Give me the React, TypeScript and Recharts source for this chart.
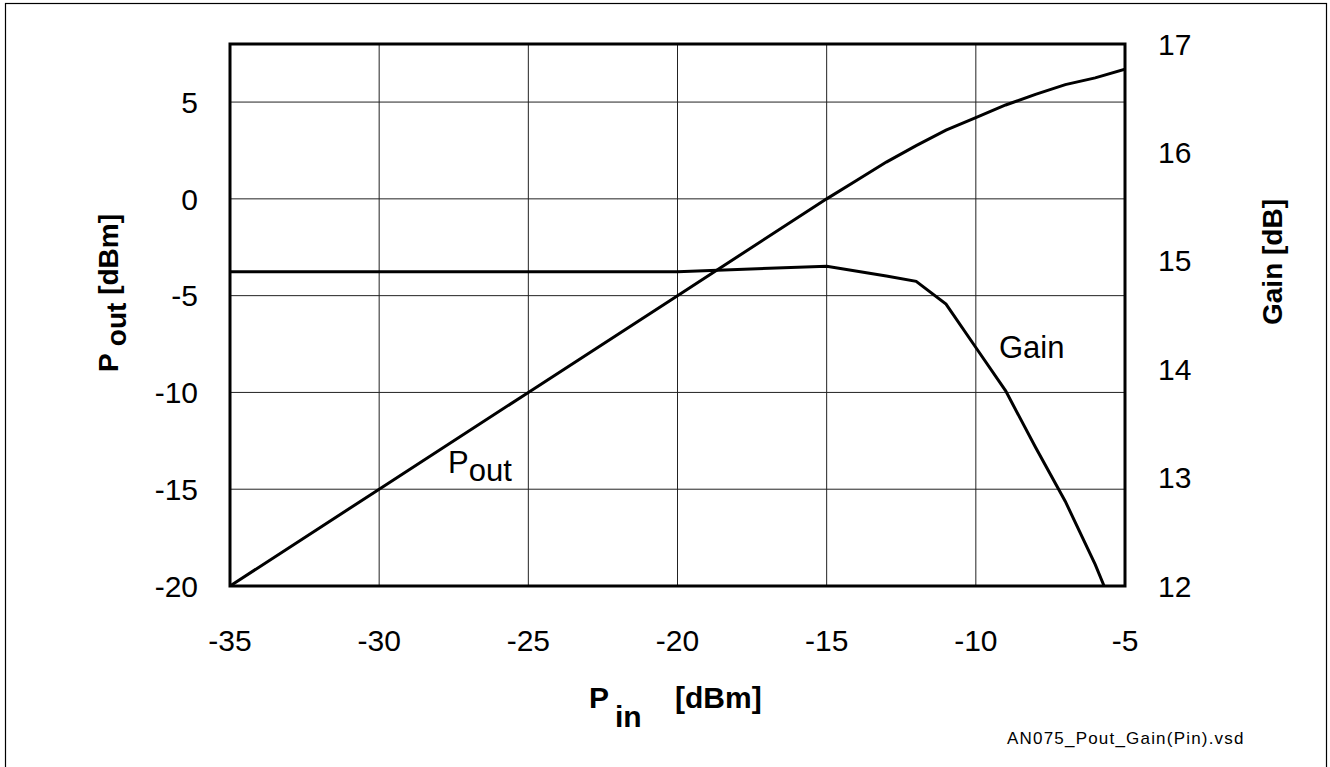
import React from "react";
import {
  LineChart,
  Line,
  XAxis,
  YAxis,
  CartesianGrid,
  ReferenceArea,
} from "recharts";

// Output power vs. input power (dBm)
const poutPin = [-35, -30, -25, -20, -15, -14, -13, -12, -11, -10, -9, -8, -7, -6, -5];
const poutValues = [-20, -15, -10, -5, 0, 0.95, 1.9, 2.75, 3.55, 4.2, 4.85, 5.4, 5.9, 6.25, 6.7];

// Gain vs. input power (dB)
const gainPin = [-35, -30, -25, -20, -15, -13, -12, -11, -10, -9, -8, -7, -6, -5.7];
const gainValues = [14.9, 14.9, 14.9, 14.9, 14.95, 14.86, 14.81, 14.6, 14.2, 13.8, 13.28, 12.78, 12.2, 12.0];

const pinTicks = [-35, -30, -25, -20, -15, -10, -5];
const poutTicks = [-20, -15, -10, -5, 0, 5];
const gainTicks = [12, 13, 14, 15, 16, 17];

const FONT = '"Liberation Sans", Arial, sans-serif';

type Row = { pin: number; pout?: number | null; gain?: number | null };

const buildRows = (): Row[] => {
  const map = new Map<number, Row>();
  poutPin.forEach((p, i) => map.set(p, { pin: p, pout: poutValues[i], gain: null }));
  gainPin.forEach((p, i) => {
    const row = map.get(p) ?? { pin: p, pout: null, gain: null };
    row.gain = gainValues[i];
    map.set(p, row);
  });
  return Array.from(map.values()).sort((a, b) => a.pin - b.pin);
};

const data = buildRows();

const tickStyle = { fontSize: 30, fill: "#000", fontFamily: FONT };

export default function App() {
  return (
    <div
      style={{
        position: "absolute",
        left: 0,
        top: 0,
        width: 1330,
        height: 767,
        overflow: "hidden",
        background: "#fff",
        fontFamily: FONT,
      }}
    >
      <LineChart
        width={1330}
        height={767}
        data={data}
        margin={{ top: 44, right: 125, bottom: 121, left: 150 }}
      >
        <CartesianGrid yAxisId="left" stroke="#222" strokeWidth={1} />
        <XAxis
          dataKey="pin"
          type="number"
          domain={[-35, -5]}
          ticks={pinTicks}
          height={60}
          axisLine={false}
          tickLine={false}
          tickSize={42}
          tickMargin={2}
          tick={tickStyle}
          allowDataOverflow
        />
        <YAxis
          yAxisId="left"
          orientation="left"
          type="number"
          domain={[-20, 8]}
          ticks={poutTicks}
          width={80}
          axisLine={false}
          tickLine={false}
          tickSize={30}
          tickMargin={2}
          tick={tickStyle}
          allowDataOverflow
        />
        <YAxis
          yAxisId="right"
          orientation="right"
          type="number"
          domain={[12, 17]}
          ticks={gainTicks}
          width={80}
          axisLine={false}
          tickLine={false}
          tickSize={31}
          tickMargin={2}
          tick={tickStyle}
          allowDataOverflow
        />
        <Line
          yAxisId="left"
          dataKey="pout"
          type="linear"
          stroke="#000"
          strokeWidth={3}
          dot={false}
          connectNulls
          isAnimationActive={false}
        />
        <Line
          yAxisId="right"
          dataKey="gain"
          type="linear"
          stroke="#000"
          strokeWidth={3}
          dot={false}
          connectNulls
          isAnimationActive={false}
        />
        <ReferenceArea
          yAxisId="left"
          x1={-35}
          x2={-5}
          y1={-20}
          y2={8}
          fill="none"
          fillOpacity={0}
          stroke="#000"
          strokeWidth={3}
        />
      </LineChart>

      <svg
        width={1330}
        height={767}
        style={{ position: "absolute", left: 0, top: 0, pointerEvents: "none" }}
        fontFamily={FONT}
      >
        <rect x={5.5} y={3.5} width={1321} height={800} fill="none" stroke="#000" strokeWidth={1.2} />

        {/* axis titles */}
        <text
          x={118}
          y={293}
          transform="rotate(-90 118 293)"
          textAnchor="middle"
          fontSize={28}
          fontWeight="bold"
        >
          P <tspan dy={8}>out</tspan>
          <tspan dy={-8}> [dBm]</tspan>
        </text>
        <text
          x={1282}
          y={262}
          transform="rotate(-90 1282 262)"
          textAnchor="middle"
          fontSize={28}
          fontWeight="bold"
        >
          Gain [dB]
        </text>
        <g fontSize={30} fontWeight="bold">
          <text x={589} y={708}>P</text>
          <text x={615} y={727}>in</text>
          <text x={675} y={708}>[dBm]</text>
        </g>

        {/* curve annotations */}
        <text x={448} y={473} fontSize={31}>
          P<tspan dy={8}>out</tspan>
        </text>
        <text x={999} y={358} fontSize={31}>
          Gain
        </text>

        <text x={1007} y={744} fontSize={17} letterSpacing={1.2}>
          AN075_Pout_Gain(Pin).vsd
        </text>
      </svg>
    </div>
  );
}
